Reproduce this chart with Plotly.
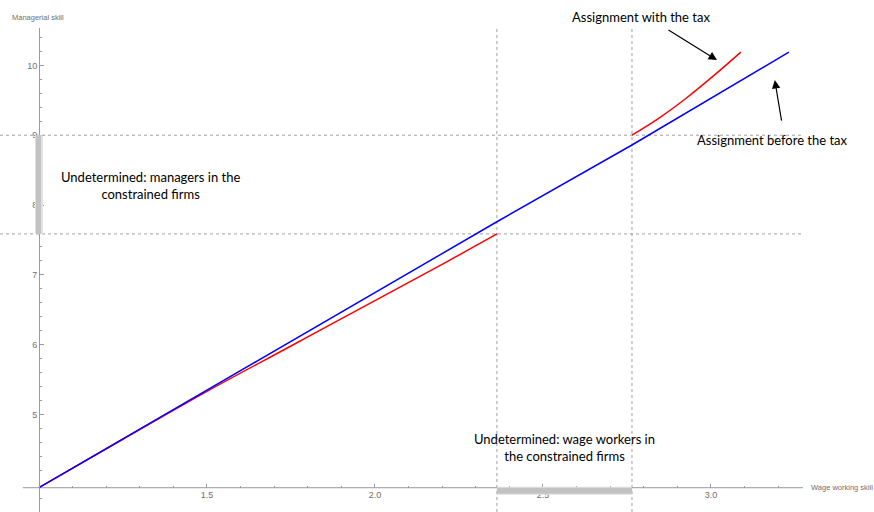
import numpy as np
import plotly.graph_objects as go

# ---------------- data ----------------
blue_x = [1.0, 2.363, 2.765, 3.232]
blue_y = [3.95, 7.76, 8.86, 10.19]

red_low_x = [1.0, 1.25, 1.5, 1.75, 2.0, 2.2, 2.363]
red_low_y = [3.95, 4.644, 5.33, 5.98, 6.63, 7.15, 7.586]

red_high_x = [2.765, 2.85, 2.929, 3.01, 3.089]
red_high_y = [9.0, 9.26, 9.54, 9.86, 10.19]

wage_cutoffs = [2.363, 2.765]      # vertical dashed lines
manager_cutoffs = [7.586, 9.0]     # horizontal dashed lines

x_tick_vals = [1.5, 2.0, 2.5, 3.0]
x_tick_text = ["1.5", "2.0", "2.5", "3.0"]
y_tick_vals = [5, 6, 7, 8, 9, 10]
y_tick_text = ["5", "6", "7", "8", "9", "10"]

x_origin = 1.0
y_origin = 3.95

# ---------------- layout geometry ----------------
W, H = 874, 512
ML, MR, MT, MB = 0, 71, 28, 0
PW, PH = W - ML - MR, H - MT - MB
x_range = [0.884, 3.274]
y_range = [3.602, 10.536]


def px_paper_x(px):
    return (px - ML) / PW


def px_paper_y(py):
    return (H - MB - py) / PH


AXIS_GRAY = "#9a9a9a"
LABEL_GRAY = "#707070"
TEXT_FONT = "Lato"

fig = go.Figure()

fig.add_trace(go.Scatter(x=red_low_x, y=red_low_y, mode="lines",
                         line=dict(color="#ff0000", width=1.5, shape="spline"),
                         showlegend=False, hoverinfo="skip"))
fig.add_trace(go.Scatter(x=red_high_x, y=red_high_y, mode="lines",
                         line=dict(color="#ff0000", width=1.5, shape="spline"),
                         showlegend=False, hoverinfo="skip"))
fig.add_trace(go.Scatter(x=blue_x, y=blue_y, mode="lines",
                         line=dict(color="#0000ff", width=1.5),
                         showlegend=False, hoverinfo="skip"))

shapes = []
# dashed cutoffs
for yv in manager_cutoffs:
    shapes.append(dict(type="line", xref="paper", yref="y", x0=0, x1=1, y0=yv, y1=yv,
                       line=dict(color="#a0a0a0", width=1, dash="3px,3px"), layer="below"))
for xv in wage_cutoffs:
    shapes.append(dict(type="line", xref="x", yref="paper", x0=xv, x1=xv, y0=0, y1=1,
                       line=dict(color="#a0a0a0", width=1, dash="3px,3px"), layer="below"))
# x axis line
shapes.append(dict(type="line", xref="x", yref="y", x0=0.952, x1=x_range[1], y0=y_origin, y1=y_origin,
                   line=dict(color=AXIS_GRAY, width=1), layer="below"))
# gray range bars on axes
shapes.append(dict(type="rect", xref="x", yref="y", xsizemode="pixel", xanchor=x_origin,
                   x0=-4, x1=4, y0=manager_cutoffs[0], y1=manager_cutoffs[1],
                   fillcolor="#e2e2e2", line=dict(width=0), layer="above"))
shapes.append(dict(type="rect", xref="x", yref="y", xsizemode="pixel", xanchor=x_origin,
                   x0=-3, x1=2, y0=manager_cutoffs[0], y1=manager_cutoffs[1],
                   fillcolor="#c2c2c2", line=dict(width=0), layer="above"))
shapes.append(dict(type="rect", xref="x", yref="y", ysizemode="pixel", yanchor=y_origin,
                   y0=-7, y1=1, x0=wage_cutoffs[0], x1=wage_cutoffs[1],
                   fillcolor="#e2e2e2", line=dict(width=0), layer="above"))
shapes.append(dict(type="rect", xref="x", yref="y", ysizemode="pixel", yanchor=y_origin,
                   y0=-6, y1=0, x0=wage_cutoffs[0], x1=wage_cutoffs[1],
                   fillcolor="#c2c2c2", line=dict(width=0), layer="above"))

annotations = [
    dict(text="Managerial skill", xref="paper", yref="paper", x=px_paper_x(10), y=px_paper_y(18),
         xanchor="left", yanchor="middle", showarrow=False,
         font=dict(family="Liberation Sans, Arial", size=7.5, color=LABEL_GRAY)),
    dict(text="Wage working skill", xref="paper", yref="y", x=px_paper_x(809), y=y_origin,
         xanchor="left", yanchor="middle", showarrow=False,
         font=dict(family="Liberation Sans, Arial", size=7.5, color=LABEL_GRAY)),
    dict(text="Assignment with the tax", xref="paper", yref="paper", x=px_paper_x(641), y=px_paper_y(17),
         xanchor="center", yanchor="middle", showarrow=False,
         font=dict(family=TEXT_FONT, size=13, color="black")),
    dict(text="Assignment before the tax", xref="paper", yref="paper", x=px_paper_x(772), y=px_paper_y(140),
         xanchor="center", yanchor="middle", showarrow=False,
         font=dict(family=TEXT_FONT, size=13, color="black")),
    dict(text="Undetermined: managers in the<br>constrained firms", xref="paper", yref="paper",
         x=px_paper_x(150), y=px_paper_y(185), xanchor="center", yanchor="middle", showarrow=False,
         align="center", font=dict(family=TEXT_FONT, size=13, color="black")),
    dict(text="Undetermined: wage workers in<br>the constrained firms", xref="paper", yref="paper",
         x=px_paper_x(564), y=px_paper_y(447), xanchor="center", yanchor="middle", showarrow=False,
         align="center", font=dict(family=TEXT_FONT, size=13, color="black")),
    # arrows
    dict(text="", xref="x", yref="y", x=3.018, y=10.077, ax=-50, ay=-31, axref="pixel", ayref="pixel",
         showarrow=True, arrowhead=2, arrowsize=1.4, arrowwidth=1.2, arrowcolor="black"),
    dict(text="", xref="x", yref="y", x=3.19, y=9.79, ax=7, ay=42, axref="pixel", ayref="pixel",
         showarrow=True, arrowhead=2, arrowsize=1.4, arrowwidth=1.2, arrowcolor="black"),
]

x_pos = (y_origin - y_range[0]) / (y_range[1] - y_range[0])
y_pos = (x_origin - x_range[0]) / (x_range[1] - x_range[0])

x_minor = [round(v, 2) for v in np.arange(1.1, 3.25, 0.1) if abs(v * 2 - round(v * 2)) > 1e-6]
y_minor = [round(v, 2) for v in np.arange(3.8, 10.55, 0.2) if abs(v - round(v)) > 1e-6]

fig.update_layout(
    width=W, height=H,
    margin=dict(l=ML, r=MR, t=MT, b=MB, pad=0),
    paper_bgcolor="white", plot_bgcolor="white",
    showlegend=False,
    shapes=shapes, annotations=annotations,
    xaxis=dict(range=x_range, anchor="free", position=x_pos, showgrid=False, zeroline=False,
               showline=False, tickmode="array", tickvals=x_tick_vals, ticktext=x_tick_text,
               ticks="inside", ticklen=4, tickcolor=AXIS_GRAY, tickwidth=1,
               tickfont=dict(family="Liberation Sans, Arial", size=9, color=LABEL_GRAY),
               minor=dict(tickmode="array", tickvals=x_minor, ticks="inside", ticklen=2,
                          tickcolor=AXIS_GRAY, showgrid=False)),
    yaxis=dict(range=y_range, anchor="free", position=y_pos, showgrid=False, zeroline=False,
               showline=True, linecolor=AXIS_GRAY, linewidth=1,
               tickmode="array", tickvals=y_tick_vals, ticktext=y_tick_text,
               ticks="inside", ticklen=4, tickcolor=AXIS_GRAY, tickwidth=1,
               tickfont=dict(family="Liberation Sans, Arial", size=9, color=LABEL_GRAY),
               minor=dict(tickmode="array", tickvals=y_minor, ticks="inside", ticklen=2,
                          tickcolor=AXIS_GRAY, showgrid=False)),
)

fig.write_html("out.html", config={"displayModeBar": False},
               post_script="document.body.style.margin='0px';document.body.style.overflow='hidden';")
